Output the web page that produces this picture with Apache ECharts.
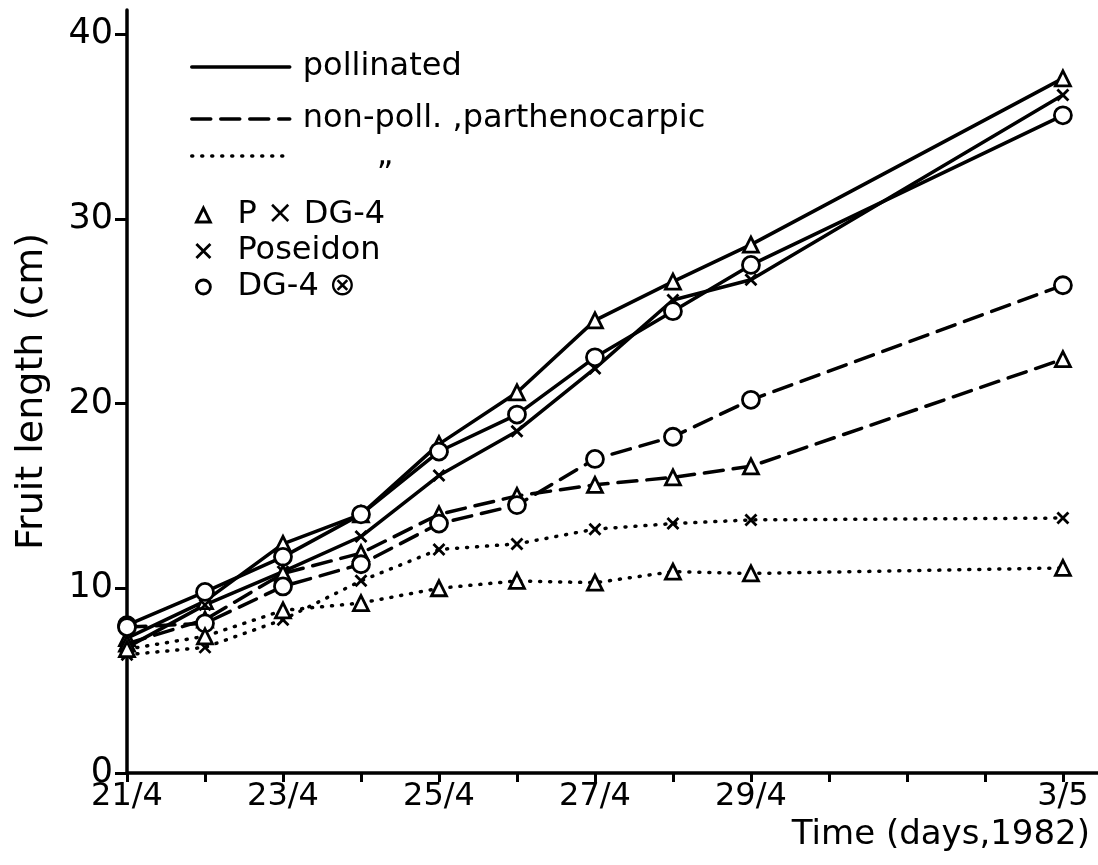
<!DOCTYPE html>
<html>
<head>
<meta charset="utf-8">
<script src="https://cdn.jsdelivr.net/npm/echarts@6/dist/echarts.min.js"></script>
<style>
html,body{margin:0;padding:0;background:#fff;}
#chart{width:1098px;height:865px;}
</style>
</head>
<body>
<div id="chart"></div>
<script>
// ---- data ----
const days = [0, 1, 2, 3, 4, 5, 6, 7, 8, 12];           // days after 21/4
const xLabelDays = [0, 2, 4, 6, 8, 12];
const xLabelTexts = ['21/4', '23/4', '25/4', '27/4', '29/4', '3/5'];
const xTickDays = [0,1,2,3,4,5,6,7,8,9,10,11,12];
const yTicks = [0, 10, 20, 30, 40];

const pollPxDG4    = [7.3, 9.3, 12.4, 14.0, 17.8, 20.6, 24.5, 26.6, 28.6, 37.6];
const pollPoseidon = [6.8, 9.1, 10.9, 12.8, 16.1, 18.5, 21.9, 25.6, 26.7, 36.7];
const pollDG4      = [8.0, 9.8, 11.7, 14.0, 17.4, 19.4, 22.5, 25.0, 27.5, 35.6];
const partPxDG4    = [7.0, 8.3, 10.8, 11.9, 14.0, 15.0, 15.6, 16.0, 16.6, 22.4];
const partDG4      = [7.9, 8.1, 10.1, 11.3, 13.5, 14.5, 17.0, 18.2, 20.2, 26.4];
const nonPoseidon  = [6.4, 6.8, 8.3, 10.4, 12.1, 12.4, 13.2, 13.5, 13.7, 13.8];
const nonPxDG4     = [6.7, 7.4, 8.8, 9.2, 10.0, 10.4, 10.3, 10.9, 10.8, 11.1];

// ---- styles ----
const FONT = 'DejaVu Sans';
const X_PATH = 'path://M0,0L10,10M10,0L0,10';
const LW = 3.5;
const SOLID = 'solid', DASH = [19, 10], DOT = [1, 9];
const sym = {
  tri: {symbol: 'triangle', size: 15},
  x: {symbol: X_PATH, size: 11},
  circ: {symbol: 'circle', size: 17}
};
const markStyle = {color: '#fff', borderColor: '#000', borderWidth: 2.8, opacity: 1};

function pairs(vals) { return days.map((d, i) => [d, vals[i]]); }

function dataSeries(name, vals, s, dash) {
  return {
    name: name, type: 'line', data: pairs(vals),
    symbol: s.symbol, symbolSize: s.size, symbolKeepAspect: true,
    showSymbol: true,
    lineStyle: {color: '#000', width: LW, type: dash, cap: 'round'},
    itemStyle: markStyle,
    emphasis: {disabled: true}, z: 3
  };
}

const series = [
  dataSeries('poll P×DG-4', pollPxDG4, sym.tri, SOLID),
  dataSeries('poll Poseidon', pollPoseidon, sym.x, SOLID),
  dataSeries('poll DG-4', pollDG4, sym.circ, SOLID),
  dataSeries('part P×DG-4', partPxDG4, sym.tri, DASH),
  dataSeries('part DG-4', partDG4, sym.circ, DASH),
  dataSeries('non Poseidon', nonPoseidon, sym.x, DOT),
  dataSeries('non P×DG-4', nonPxDG4, sym.tri, DOT)
];

// legend-only series
function legendLine(name, dash) {
  return {name: name, type: 'line', data: [], symbol: 'none', legendIcon: 'none',
    lineStyle: {color: '#000', width: LW, type: dash, cap: 'round'},
    itemStyle: {color: '#000', opacity: 0}};
}
function legendMark(name, s) {
  return {name: name, type: 'line', data: [], symbol: s.symbol, symbolKeepAspect: true,
    lineStyle: {width: 0, opacity: 0}, itemStyle: markStyle};
}
series.push(legendLine('pollinated', SOLID));
series.push(legendLine('non-poll. ,parthenocarpic', DASH));
series.push(legendLine('„', DOT));
series.push(legendMark('P × DG-4', sym.tri));
series.push(legendMark('Poseidon', sym.x));
series.push(legendMark('DG-4 ⊗', sym.circ));

const legendText = {fontFamily: FONT, fontSize: 32, color: '#000', lineHeight: 36};
const lineLegendCommon = {
  orient: 'vertical', left: 185, itemWidth: 98, itemHeight: 14, selectedMode: false,
  itemStyle: {opacity: 0},
  lineStyle: {width: LW, color: '#000'}
};
const markNames = ['P × DG-4', 'Poseidon', 'DG-4 ⊗'];
const markSyms = [sym.tri, sym.x, sym.circ];

const option = {
  animation: false,
  backgroundColor: '#fff',
  grid: {left: 127, right: 0, top: 10, bottom: 92, containLabel: false, outerBoundsMode: 'none'},
  legend: [
    Object.assign({}, lineLegendCommon, {
      data: ['pollinated', 'non-poll. ,parthenocarpic'], top: 44, itemGap: 16,
      textStyle: Object.assign({}, legendText, {padding: [0, 0, 0, 8]})}),
    Object.assign({}, lineLegendCommon, {
      data: ['„'], top: 133,
      textStyle: Object.assign({}, legendText, {padding: [0, 0, 0, 82]})}),
    {data: markNames.map((n, i) => ({name: n, icon: markSyms[i].symbol,
        itemStyle: {color: '#fff', borderColor: '#000', borderWidth: 2.8}})),
     orient: 'vertical', left: 190, top: 192,
     itemWidth: 14, itemHeight: 14, itemGap: 0, selectedMode: false,
     itemStyle: {color: '#fff', borderColor: '#000', borderWidth: 2.8},
     lineStyle: {opacity: 0, width: 0},
     textStyle: Object.assign({}, legendText, {padding: [0, 0, 0, 22]})}
  ],
  xAxis: {
    type: 'value', min: 0, max: 12.45,
    name: 'Time (days,1982)', nameLocation: 'end', nameGap: -8,
    nameTextStyle: {fontFamily: FONT, fontSize: 34, color: '#000', align: 'right', verticalAlign: 'top', padding: [45, 0, 0, 0]},
    splitLine: {show: false},
    axisLine: {lineStyle: {color: '#000', width: LW}},
    axisTick: {customValues: xTickDays, length: 9, inside: false, lineStyle: {color: '#000', width: 3}},
    axisLabel: {customValues: xLabelDays, margin: 8, fontFamily: FONT, fontSize: 32, color: '#000',
      formatter: v => { const i = xLabelDays.indexOf(v); return i >= 0 ? xLabelTexts[i] : ''; }}
  },
  yAxis: {
    type: 'value', min: 0, max: 41.3,
    name: 'Fruit length (cm)', nameLocation: 'middle', nameRotate: 90, nameGap: 76,
    nameTextStyle: {fontFamily: FONT, fontSize: 38, color: '#000'},
    splitLine: {show: false},
    axisLine: {lineStyle: {color: '#000', width: LW}},
    axisTick: {customValues: yTicks, length: 12, lineStyle: {color: '#000', width: 3}},
    axisLabel: {customValues: yTicks, margin: 14, fontFamily: FONT, fontSize: 35, color: '#000'}
  },
  series: series
};

const chart = echarts.init(document.getElementById('chart'), null, {renderer: 'canvas'});
chart.setOption(option);
</script>
</body>
</html>
